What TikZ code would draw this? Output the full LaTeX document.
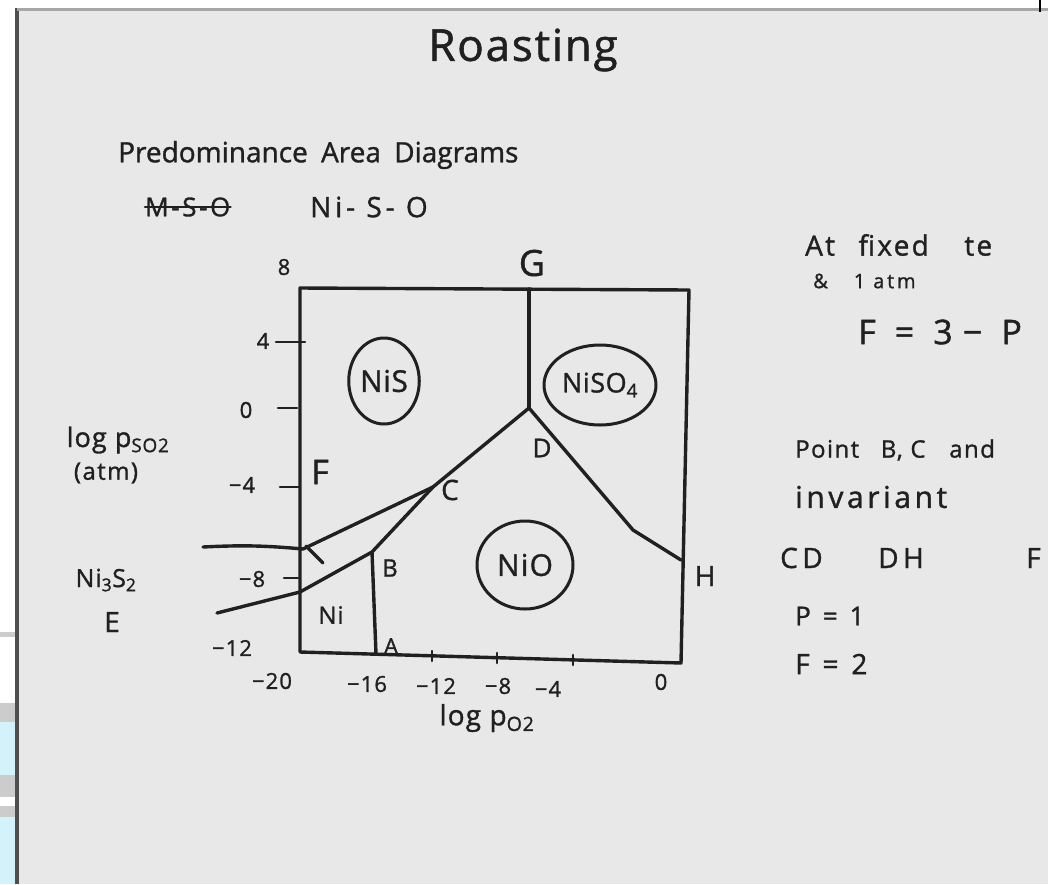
\documentclass[tikz,border=0pt]{standalone}
\usepackage{fontspec}
\setmainfont{Open Sans}[FakeBold=1.2]
\usetikzlibrary{positioning,shapes.geometric}
\definecolor{boardGrey}{HTML}{E8E8E8}
\definecolor{markerInk}{HTML}{202020}
\definecolor{edgeDark}{HTML}{4E4E4E}
\definecolor{stripCyan}{HTML}{D3F3FA}
\definecolor{stripGrey}{HTML}{CCCCCC}
\newcommand{\hsz}[2]{\fontsize{#2}{#2}\selectfont\addfontfeatures{LetterSpace=#1}}

\begin{document}
\begin{tikzpicture}[x=1pt,y=-1pt,
  ink/.style={draw=markerInk,line width=3.4pt,line cap=round,line join=round},
  hand/.style={text=markerInk,inner sep=0pt,font=\hsz{12}{26}},
  small/.style={hand,font=\hsz{5}{22}},
  blob/.style={ellipse,draw=markerInk,line width=3pt,inner sep=1pt,text=markerInk}]
  \useasboundingbox (0,0) rectangle (1048,884);
  \begin{scope}
  \clip (0,0) rectangle (1048,884);
  % board, frame and the strip on the left
  \fill[white] (0,0) rectangle (1048,884);
  \fill[boardGrey] (17,9) rectangle (1048,884);
  \fill[stripGrey] (0,632) rectangle (15,637);
  \fill[stripGrey] (0,703) rectangle (15,722);
  \fill[stripCyan] (0,722) rectangle (15,775);
  \fill[stripGrey] (0,775) rectangle (15,797);
  \fill[stripGrey] (0,806) rectangle (15,817);
  \fill[stripCyan] (0,817) rectangle (15,884);
  \draw[edgeDark,line width=4pt] (17,8) -- (17,884);
  \draw[gray!70,line width=3pt] (17,9) -- (1048,9);
  \draw[black,line width=2pt] (1040,0) -- (1040,12);

  % headings
  \node[hand,font=\hsz{4}{44}] (title) at (523,50) {Roasting};
  \node[hand,font=\hsz{0}{28},anchor=west] (subtitle) at (118,155) {Predominance\hspace{6pt} Area\hspace{6pt} Diagrams};
  \node[hand,font=\hsz{10}{26},anchor=west] (mso) at (145,207) {M-S-O};
  \draw[ink,line width=2.6pt] (mso.west) -- (mso.east);
  \node[hand,font=\hsz{14}{28},anchor=west] (niso) at (310,207) {Ni- S- O};

  % diagram frame and phase points
  \coordinate (boxTL) at (300,288);
  \coordinate (boxTR) at (689,290);
  \coordinate (boxBR) at (681,663);
  \coordinate (boxBL) at (300,652);
  \coordinate (G) at (529,289);
  \coordinate (D) at (529,408);
  \coordinate (kink) at (633,530);
  \coordinate (H) at (681,560);
  \coordinate (C) at (433,487);
  \coordinate (B) at (372,552);
  \coordinate (A) at (376,654);
  \coordinate (upperHit) at (303,549);
  \coordinate (upperEnd) at (203,547);
  \coordinate (lowerHit) at (300,592);
  \coordinate (lowerEnd) at (217,613);

  \draw[ink] (boxTL) -- (boxTR) -- (boxBR) -- (boxBL) -- cycle;
  \draw[ink] (G) -- (D);
  \draw[ink] (D) -- (kink) -- (H);
  \draw[ink] (D) -- (C) -- (upperHit);
  \draw[ink] (upperHit) to[bend right=4] (upperEnd);
  \draw[ink] (306,546) -- (323,563);
  \draw[ink] (C) -- (B) -- (lowerHit) -- (lowerEnd);
  \draw[ink] (B) -- (A);

  % ticks
  \foreach \ty/\lx/\rx in {342/276/305,408/278/297,487/280/299,578/284/298}
    \draw[ink,line width=2.6pt] (\lx,\ty) -- (\rx,\ty);
  \foreach \tx/\ty in {432/656,497/658,573/660}
    \draw[ink,line width=2.6pt] (\tx,\ty-5) -- (\tx,\ty+5);

  % tick labels
  \node[small] (y8) at (284,267) {8};
  \node[small] (y4) at (263,341) {4};
  \node[small] (y0) at (246,410) {0};
  \node[small] (ym4) at (242,485) {−4};
  \node[small] (ym8) at (252,579) {−8};
  \node[small] (ym12) at (232,648) {−12};
  \node[small] (xm20) at (272,681) {−20};
  \node[small] (xm16) at (367,684) {−16};
  \node[small] (xm12) at (436,686) {−12};
  \node[small] (xm8) at (498,686) {−8};
  \node[small] (xm4) at (548,689) {−4};
  \node[small] (x0) at (661,682) {0};

  % axis names
  \node[hand,font=\hsz{4}{27}] (ylab) at (118,440) {log p\textsubscript{SO2}};
  \node[hand,font=\hsz{6}{24}] (yunit) at (106,473) {(atm)};
  \node[hand,font=\hsz{4}{28}] (xlab) at (487,718) {log p\textsubscript{O2}};
  \node[hand,font=\hsz{4}{25}] (ni3s2) at (106,580) {Ni\textsubscript{3}S\textsubscript{2}};
  \node[hand,font=\hsz{0}{28}] (Elab) at (112,622) {E};

  % point labels
  \node[hand,font=\hsz{0}{36}] (Glab) at (532,263) {G};
  \node[hand,font=\hsz{0}{26}] (Dlab) at (542,448) {D};
  \node[hand,font=\hsz{0}{28}] (Clab) at (450,490) {C};
  \node[hand,font=\hsz{0}{34}] (Flab) at (320,472) {F};
  \node[hand,font=\hsz{0}{24}] (Blab) at (390,568) {B};
  \node[hand,font=\hsz{0}{22}] (Alab) at (391,646) {A};
  \node[hand,font=\hsz{0}{28}] (Hlab) at (705,576) {H};

  % areas
  \node[blob,font=\hsz{2}{30},minimum width=64pt,minimum height=86pt] (nis) at (384,381) {NiS};
  \node[blob,font=\hsz{2}{27},minimum width=112pt,minimum height=80pt] (niso4) at (600,385) {NiSO\textsubscript{4}};
  \node[blob,font=\hsz{4}{30},minimum width=96pt,minimum height=88pt] (nio) at (525,565) {NiO};
  \node[hand,font=\hsz{4}{24}] (ni) at (331,615) {Ni};

  % notes on the right
  \node[hand,font=\hsz{8}{28},anchor=west] (n1) at (805,245) {At\hspace{14pt} fixed\hspace{26pt} te};
  \node[hand,font=\hsz{14}{20},anchor=west] (n2) at (813,281) {\&\hspace{18pt} 1 atm};
  \node[hand,font=\hsz{30}{34},anchor=west] (n3) at (858,332) {F = 3− P};
  \node[hand,font=\hsz{6}{24},anchor=west] (n4) at (795,450) {Point\hspace{14pt} B, C\hspace{16pt} and};
  \node[hand,font=\hsz{12}{30},anchor=west] (n5) at (795,497) {invariant};
  \node[hand,font=\hsz{16}{28},anchor=west] (cd) at (780,558) {CD};
  \node[hand,font=\hsz{16}{28},anchor=west] (dh) at (878,558) {DH};
  \node[hand,font=\hsz{0}{28},anchor=west] (fdeg) at (1026,558) {F};
  \node[hand,font=\hsz{20}{26},anchor=west] (n7) at (795,616) {P = 1};
  \node[hand,font=\hsz{20}{28},anchor=west] (n8) at (795,664) {F = 2};
  \end{scope}
\end{tikzpicture}
\end{document}
